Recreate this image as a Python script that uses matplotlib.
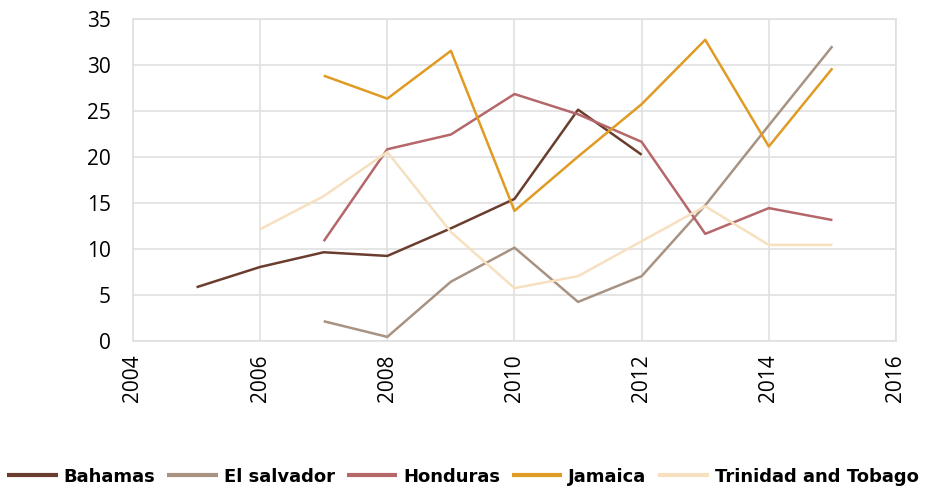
import matplotlib
matplotlib.use("Agg")
import matplotlib.pyplot as plt
import numpy as np

# Data
years_bahamas = [2005, 2006, 2007, 2008, 2009, 2010, 2011, 2012]
bahamas = [5.8, 8.0, 9.6, 9.2, 12.2, 15.4, 25.1, 20.2]

years_elsalvador = [2007, 2008, 2009, 2010, 2011, 2012, 2013, 2014, 2015]
elsalvador = [2.1, 0.4, 6.4, 10.1, 4.2, 7.0, 14.7, 23.4, 32.0]

years_honduras = [2007, 2008, 2009, 2010, 2011, 2012, 2013, 2014, 2015]
honduras = [10.8, 20.8, 22.4, 26.8, 24.6, 21.6, 11.6, 14.4, 13.1]

years_jamaica = [2007, 2008, 2009, 2010, 2011, 2012, 2013, 2014, 2015]
jamaica = [28.8, 26.3, 31.5, 14.1, 20.0, 25.7, 32.7, 21.1, 29.6]

years_trinidad = [2006, 2007, 2008, 2009, 2010, 2011, 2012, 2013, 2014, 2015]
trinidad = [12.1, 15.7, 20.5, 11.8, 5.7, 7.0, 10.8, 14.6, 10.4, 10.4]

series = [
    ("Bahamas", years_bahamas, bahamas, "#6b3d2e"),
    ("El salvador", years_elsalvador, elsalvador, "#a89383"),
    ("Honduras", years_honduras, honduras, "#b5676a"),
    ("Jamaica", years_jamaica, jamaica, "#e09b24"),
    ("Trinidad and Tobago", years_trinidad, trinidad, "#f6e0c0"),
]

plt.rcParams["font.family"] = ["Open Sans", "DejaVu Sans"]

fig = plt.figure(figsize=(9.26, 4.9), dpi=100)
ax = fig.add_axes([0.1436, 0.305, 0.824, 0.657])

for name, xs, ys, color in series:
    ax.plot(xs, ys, color=color, lw=1.8, label=name, solid_capstyle="butt")

ax.set_xlim(2004, 2016)
ax.set_ylim(0, 35)
ax.set_xticks(np.arange(2004, 2017, 2))
ax.set_yticks(np.arange(0, 36, 5))
ax.grid(True, color="#e0e0e0", lw=1.2)
ax.set_axisbelow(True)
for sp in ax.spines.values():
    sp.set_color("#e0e0e0")
    sp.set_linewidth(1.2)
ax.tick_params(axis="both", length=0, labelsize=15, colors="black")
ax.tick_params(axis="y", pad=16)
ax.tick_params(axis="x", pad=10)
for lbl in ax.get_xticklabels():
    lbl.set_rotation(90)

leg = fig.legend(loc="center", bbox_to_anchor=(0.5, 0.027), ncol=5, frameon=False,
                 handlelength=2.8, handletextpad=0.33, columnspacing=0.65,
                 prop={"family": "DejaVu Sans", "weight": "bold", "size": 13})
for line in leg.get_lines():
    line.set_linewidth(3)

fig.savefig("out.png", dpi=100)
